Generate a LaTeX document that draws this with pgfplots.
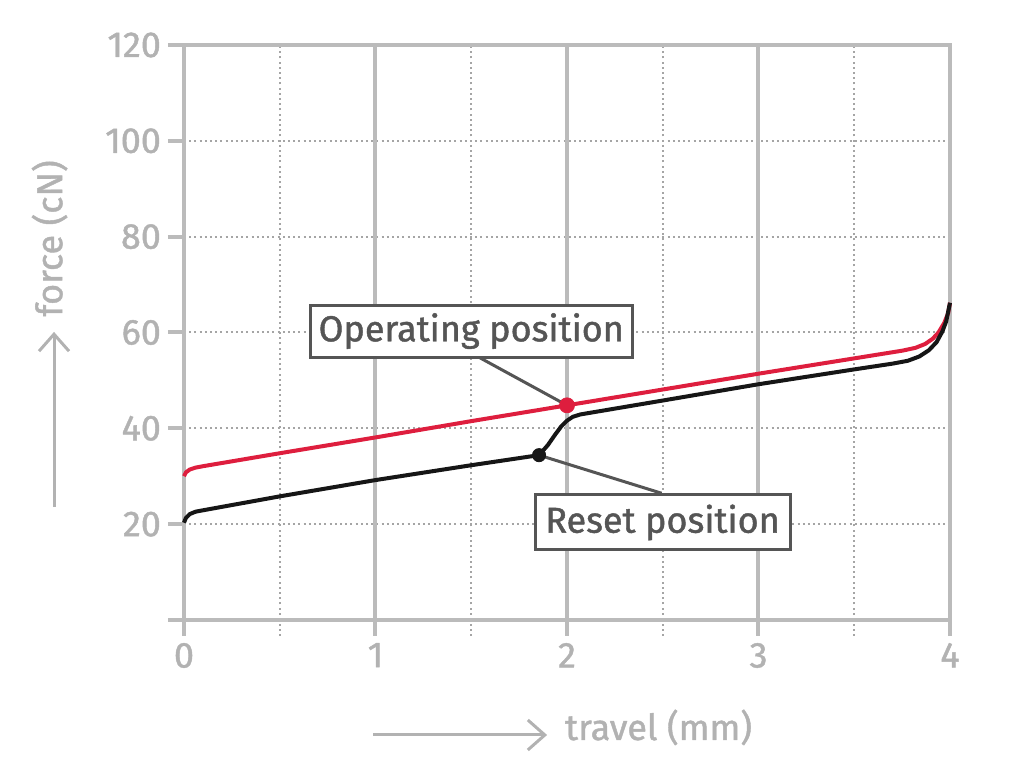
\documentclass[border=0pt]{standalone}
\usepackage{pgfplots}
\pgfplotsset{compat=1.18}
\usepackage{fontspec}
\setmainfont{Fira Sans}[FakeBold=1.2]
\usetikzlibrary{arrows.meta}
\definecolor{axgray}{RGB}{187,187,187}
\definecolor{gridgray}{RGB}{165,165,165}
\definecolor{lblgray}{RGB}{178,178,178}
\definecolor{boxgray}{RGB}{85,85,85}
\definecolor{redline}{RGB}{222,30,62}
\definecolor{blackline}{RGB}{22,22,22}
\begin{document}
\begin{tikzpicture}
\begin{axis}[
  width=383pt, height=287.5pt, scale only axis,
  xmin=0, xmax=4, ymin=0, ymax=120, clip=false,
  axis line style={axgray, line width=2pt},
  xtick={0,1,2,3,4}, minor xtick={0.5,1.5,2.5,3.5},
  ytick={0,20,...,120}, yticklabels={,20,40,60,80,100,120},
  xtick pos=bottom, ytick pos=left, tick align=outside,
  major tick length=8pt, minor tick length=8pt,
  major tick style={axgray, line width=2pt},
  minor tick style={gridgray, line width=1pt, dash pattern=on 1pt off 1.6pt},
  xminorgrids, ymajorgrids,
  major grid style={gridgray, line width=1pt, dash pattern=on 1pt off 1.6pt},
  minor grid style={gridgray, line width=1pt, dash pattern=on 1pt off 1.6pt},
  extra x ticks={1,2,3}, extra x tick labels={},
  extra x tick style={grid=major, major grid style={axgray, line width=2pt, solid}},
  tick label style={font=\fontsize{18}{20}\selectfont, text=lblgray},
  /pgf/number format/assume math mode=true,
]
\coordinate (bl) at (rel axis cs:0,0);
\coordinate (tr) at (rel axis cs:1,1);

\addplot[redline, line width=2pt] coordinates {
(0,30.0) (0.01,30.8) (0.03,31.4) (0.06,31.8) (0.1,32.1) (0.5,34.8) (1,38.1)
(1.5,41.5) (2,44.8) (2.5,48.1) (3,51.4) (3.5,54.6) (3.75,56.2) (3.82,56.8)
(3.87,57.6) (3.91,58.7) (3.94,60.0) (3.97,62.0) (3.99,64.0) (4.0,66.2)};

\addplot[blackline, line width=2pt] coordinates {
(0,20.3) (0.01,21.3) (0.03,22.1) (0.06,22.6) (0.1,22.9) (0.5,25.8) (1,29.2)
(1.5,32.3) (1.854,34.4) (1.9,36.5) (1.94,38.8) (1.97,40.4) (2.0,41.6)
(2.03,42.4) (2.07,42.9) (2.5,45.8) (3,49.2) (3.5,52.3) (3.7,53.5) (3.78,54.1)
(3.84,55.0) (3.89,56.3) (3.93,58.0) (3.96,60.2) (3.98,62.3) (4.0,66.2)};

\draw[boxgray, line width=1.5pt] (axis cs:1.546,54.7) -- (axis cs:2,44.8);
\draw[boxgray, line width=1.5pt] (axis cs:1.854,34.4) -- (axis cs:2.494,26.45);

\addplot[only marks, mark=*, mark size=3.75pt, redline] coordinates {(2,44.8)};
\addplot[only marks, mark=*, mark size=3.3pt, blackline] coordinates {(1.854,34.4)};

\node[draw=boxgray, line width=1.5pt, fill=white, text=boxgray,
  minimum width=161pt, minimum height=26pt, inner sep=0pt,
  font=\fontsize{18}{20}\selectfont] at (axis cs:1.50,60.3) {Operating position};
\node[draw=boxgray, line width=1.5pt, fill=white, text=boxgray,
  minimum width=127.5pt, minimum height=27.5pt, inner sep=0pt,
  font=\fontsize{18}{20}\selectfont] at (axis cs:2.499,20.35) {Reset position};

\draw[lblgray, line width=1.5pt, -{Straight Barb[length=8.5pt, width=15pt]}]
  (rel axis cs:0.247,-0.2) -- (rel axis cs:0.474,-0.2);
\node[anchor=base west, inner sep=0pt, text=lblgray, font=\fontsize{18}{20}\selectfont]
  at (rel axis cs:0.497,-0.2087) {travel (mm)};
\draw[lblgray, line width=1.5pt, -{Straight Barb[length=8.5pt, width=15pt]}]
  (rel axis cs:-0.1697,0.1965) -- (rel axis cs:-0.1697,0.501);
\node[anchor=base west, rotate=90, inner sep=0pt, text=lblgray, font=\fontsize{18}{20}\selectfont]
  at (rel axis cs:-0.159,0.527) {force (cN)};
\end{axis}
\path ([shift={(-92pt,-74.5pt)}]bl) rectangle ([shift={(36pt,22.5pt)}]tr);
\end{tikzpicture}
\end{document}
